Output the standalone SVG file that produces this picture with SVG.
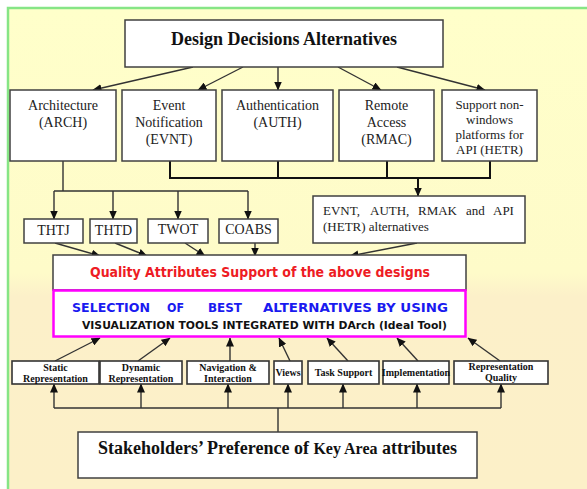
<svg xmlns="http://www.w3.org/2000/svg" width="587" height="489" viewBox="0 0 587 489">
<defs>
<linearGradient id="bg" x1="0" y1="0" x2="0" y2="1">
<stop offset="0" stop-color="#FFFFCA"/>
<stop offset="0.55" stop-color="#FEFBC9"/>
<stop offset="0.6" stop-color="#FCF0C9"/>
<stop offset="1" stop-color="#FCF0C8"/>
</linearGradient>
<marker id="ah" markerWidth="9" markerHeight="8" refX="8.5" refY="4" orient="auto" markerUnits="userSpaceOnUse">
<path d="M0,0 L9,4 L0,8 Z" fill="#111"/>
</marker>
</defs>
<style>
.box{fill:#fff;stroke:#404040;stroke-width:1.5}
.sm{fill:#fff;stroke:#333;stroke-width:1.6}
.ln{fill:none;stroke:#333;stroke-width:1.4}
.tk{fill:none;stroke:#111;stroke-width:2}
.ar{marker-end:url(#ah)}
.t{font-family:"Liberation Serif","Times New Roman",serif;font-size:14px;fill:#222;text-anchor:middle}
.s13{font-size:13px}
.b{font-weight:bold}
.bs{font-family:"Liberation Serif",serif;font-weight:bold;font-size:10px;fill:#111;text-anchor:middle}
.cm{font-family:"DejaVu Sans","Liberation Sans",sans-serif;font-weight:bold}
</style>
<rect x="0" y="0" width="587" height="489" fill="#fff"/>
<rect x="8" y="8" width="579" height="481" fill="url(#bg)"/>
<path d="M8,489 V8 H587" fill="none" stroke="#86E586" stroke-width="2.5"/>

<g id="connectors">
<path class="ln ar" d="M193,67 L93,90"/>
<path class="ln ar" d="M243,67 L198,90"/>
<path class="ln ar" d="M278,67 L278,90"/>
<path class="ln ar" d="M338,67 L381,90"/>
<path class="ln ar" d="M397,67 L485,90"/>
<path class="ln" d="M63,161 V191 M54,191 H248"/>
<path class="ln ar" d="M54,191 V219"/>
<path class="ln ar" d="M113,191 V219"/>
<path class="ln ar" d="M178,191 V219"/>
<path class="ln ar" d="M248,191 V219"/>
<path class="tk" d="M170,161 V178 M278,161 V178 M387,161 V178 M490,161 V178 M169,178 H491"/>
<path class="tk ar" d="M418,178 V196"/>
<path class="ln ar" d="M417,243 L350,256"/>
<path class="ln ar" d="M55,243 L100,256"/>
<path class="ln ar" d="M115,243 L147,256"/>
<path class="ln ar" d="M185,243 L205,256"/>
<path class="ln ar" d="M255,243 V256"/>
<path class="ln ar" d="M55,361 L100,338"/>
<path class="ln ar" d="M138,361 L170,338"/>
<path class="ln ar" d="M230,361 V338"/>
<path class="ln ar" d="M290,361 L279,338"/>
<path class="ln ar" d="M348,361 L327,338"/>
<path class="ln ar" d="M418,361 L397,338"/>
<path class="ln ar" d="M500,361 L468,338"/>
<path class="ln" d="M54,408 H501 M278,432 V408"/>
<path class="ln ar" d="M54,408 V384"/>
<path class="ln ar" d="M141,408 V384"/>
<path class="ln ar" d="M228,408 V384"/>
<path class="ln ar" d="M288,408 V384"/>
<path class="ln ar" d="M343,408 V384"/>
<path class="ln ar" d="M417,408 V384"/>
<path class="ln ar" d="M501,408 V384"/>
</g>

<g id="design-decisions">
<rect class="box" x="125" y="20" width="318" height="47"/>
<text class="t b" x="284" y="45" style="font-size:18px;fill:#111">Design Decisions Alternatives</text>
</g>

<g id="arch">
<rect class="box" x="10" y="90" width="106" height="71"/>
<text class="t" x="63" y="110">Architecture</text>
<text class="t" x="63" y="127">(ARCH)</text>
</g>
<g id="evnt">
<rect class="box" x="122" y="90" width="94" height="71"/>
<text class="t" x="169" y="110">Event</text>
<text class="t" x="169" y="127">Notification</text>
<text class="t" x="169" y="144">(EVNT)</text>
</g>
<g id="auth">
<rect class="box" x="222" y="90" width="111" height="71"/>
<text class="t" x="277.5" y="110">Authentication</text>
<text class="t" x="277.5" y="127">(AUTH)</text>
</g>
<g id="rmac">
<rect class="box" x="339" y="90" width="95" height="71"/>
<text class="t" x="386.5" y="110">Remote</text>
<text class="t" x="386.5" y="127">Access</text>
<text class="t" x="386.5" y="144">(RMAC)</text>
</g>
<g id="hetr">
<rect class="box" x="442" y="90" width="95" height="71"/>
<text class="t s13" x="489.5" y="109">Support non-</text>
<text class="t s13" x="489.5" y="124">windows</text>
<text class="t s13" x="489.5" y="139">platforms for</text>
<text class="t s13" x="489.5" y="154">API (HETR)</text>
</g>

<g id="thtj">
<rect class="box" x="24" y="219" width="59" height="24"/>
<text class="t" x="53.5" y="235">THTJ</text>
</g>
<g id="thtd">
<rect class="box" x="90" y="219" width="47" height="24"/>
<text class="t" x="113.5" y="235">THTD</text>
</g>
<g id="twot">
<rect class="box" x="148" y="219" width="60" height="24"/>
<text class="t" x="178" y="234">TWOT</text>
</g>
<g id="coabs">
<rect class="box" x="219" y="219" width="59" height="24"/>
<text class="t" x="248.5" y="234">COABS</text>
</g>

<g id="alternatives">
<rect class="box" x="313" y="196" width="212" height="47"/>
<text class="t s13" style="text-anchor:start" y="215"><tspan x="323">EVNT,</tspan><tspan x="370">AUTH,</tspan><tspan x="418">RMAK</tspan><tspan x="466">and</tspan><tspan x="493">API</tspan></text>
<text class="t s13" style="text-anchor:start" x="323" y="231">(HETR) alternatives</text>
</g>

<g id="quality">
<rect class="box" x="53" y="255" width="413" height="35"/>
<text class="cm" x="90" y="277" font-size="14" fill="#EE1C24" textLength="340" lengthAdjust="spacingAndGlyphs">Quality Attributes Support of the above designs</text>
</g>

<g id="selection">
<rect x="53.5" y="290.5" width="412" height="46" fill="#fff" stroke="#FF00FF" stroke-width="2.5"/>
<text class="cm" y="312" font-size="13" fill="#1A1AF0" style="font-weight:600"><tspan x="72" textLength="78" lengthAdjust="spacingAndGlyphs">SELECTION</tspan><tspan x="167" textLength="17" lengthAdjust="spacingAndGlyphs">OF</tspan><tspan x="208" textLength="34" lengthAdjust="spacingAndGlyphs">BEST</tspan><tspan x="263" textLength="185" lengthAdjust="spacingAndGlyphs">ALTERNATIVES BY USING</tspan></text>
<text class="cm" x="82" y="329" font-size="11" fill="#111" textLength="365" lengthAdjust="spacingAndGlyphs">VISUALIZATION TOOLS INTEGRATED WITH DArch (Ideal Tool)</text>
</g>

<g id="static">
<rect class="sm" x="12" y="361" width="87" height="23"/>
<text class="bs" x="55.5" y="371">Static</text>
<text class="bs" x="55.5" y="382">Representation</text>
</g>
<g id="dynamic">
<rect class="sm" x="100" y="361" width="82" height="23"/>
<text class="bs" x="141" y="371">Dynamic</text>
<text class="bs" x="141" y="382">Representation</text>
</g>
<g id="navigation">
<rect class="sm" x="187" y="361" width="82" height="23"/>
<text class="bs" x="228" y="371">Navigation &amp;</text>
<text class="bs" x="228" y="382">Interaction</text>
</g>
<g id="views">
<rect class="sm" x="274" y="361" width="28" height="23"/>
<text class="bs" x="288" y="376">Views</text>
</g>
<g id="task">
<rect class="sm" x="308" y="361" width="71" height="23"/>
<text class="bs" x="343.5" y="376">Task Support</text>
</g>
<g id="implementation">
<rect class="sm" x="383" y="361" width="66" height="23"/>
<text class="bs" x="416" y="376">Implementation</text>
</g>
<g id="repquality">
<rect class="sm" x="454" y="361" width="94" height="23"/>
<text class="bs" x="501" y="370">Representation</text>
<text class="bs" x="501" y="381">Quality</text>
</g>

<g id="stakeholders">
<rect class="box" x="78" y="432" width="399" height="46"/>
<text class="t b" x="277.5" y="454" style="font-size:18px;fill:#111">Stakeholders’ Preference of <tspan style="font-size:16px">Key Area</tspan> attributes</text>
</g>
</svg>
